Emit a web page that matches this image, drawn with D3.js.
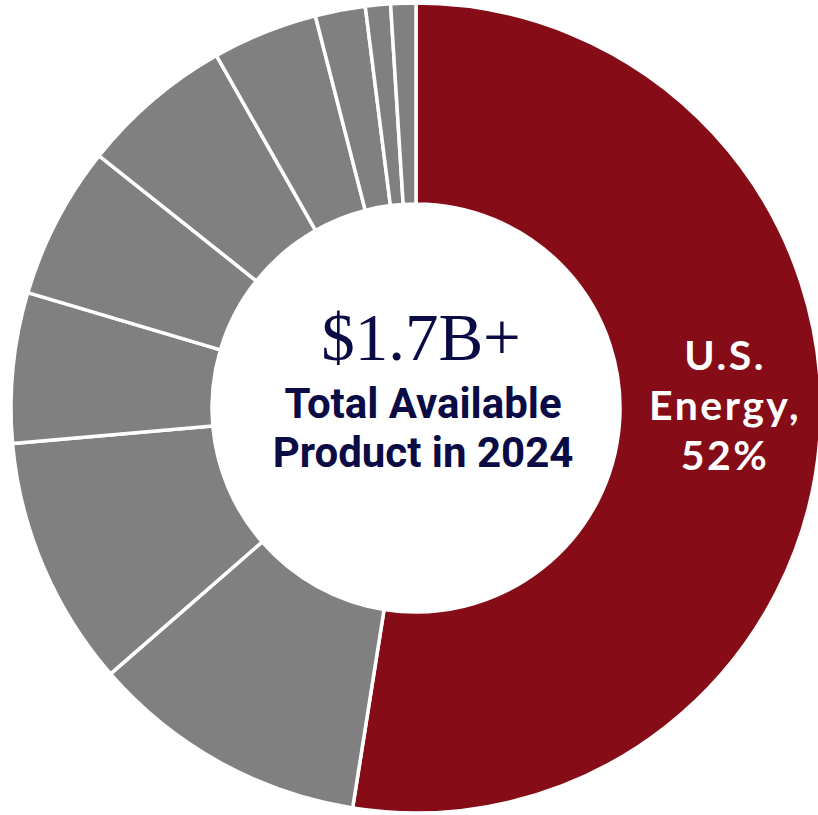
<!DOCTYPE html>
<html>
<head>
<meta charset="utf-8">
<script src="https://cdn.jsdelivr.net/npm/d3@7"></script>
<style>
  html, body { margin: 0; padding: 0; background: #fff; }
</style>
</head>
<body>
<div id="chart-area"></div>
<script>
// slice values, clockwise from 12 o'clock
var categories = ["U.S. Energy", "Segment 2", "Segment 3", "Segment 4", "Segment 5",
                  "Segment 6", "Segment 7", "Segment 8", "Segment 9", "Segment 10"];
var shares = [52.5, 11.1, 10.0, 6.0, 6.1, 6.1, 4.2, 2.0, 1.0, 1.0];
var labelLines = ["U.S.", "Energy,", "52%"];
var centerTitle = "$1.7B+";
var centerLines = ["Total Available", "Product in 2024"];

var width = 818, height = 815;
var cx = 416, cy = 408;
var outerR = 405, innerR = 204;

var svg = d3.select("#chart-area").append("svg")
    .attr("width", width)
    .attr("height", height);

var g = svg.append("g")
    .attr("transform", "translate(" + cx + "," + cy + ")");

var pie = d3.pie().sort(null).value(function(d) { return d; });
var arcs = pie(shares);

var arc = d3.arc()
    .innerRadius(innerR)
    .outerRadius(outerR);

g.selectAll("path.slice")
    .data(arcs)
    .enter().append("path")
    .attr("class", "slice")
    .attr("d", arc)
    .attr("fill", function(d, i) { return i === 0 ? "#860d17" : "#808080"; })
    .attr("stroke", "#fff")
    .attr("stroke-width", 3.5)
    .attr("stroke-linejoin", "miter");

// label on the big slice, one text per line
var labelArc = d3.arc().innerRadius(305).outerRadius(305);
var c = labelArc.centroid(arcs[0]);
g.selectAll("text.lbl")
    .data(labelLines)
    .enter().append("text")
    .attr("class", "lbl")
    .attr("x", c[0] + 5)
    .attr("y", function(d, i) { return c[1] - 62 + i * 50; })
    .attr("text-anchor", "middle")
    .attr("fill", "#fff")
    .attr("font-family", "Lato, sans-serif")
    .attr("font-weight", 700)
    .attr("font-size", 41)
    .attr("letter-spacing", 2.5)
    .text(function(d) { return d; });

// centre text
g.append("text")
    .attr("x", 5)
    .attr("y", -48)
    .attr("text-anchor", "middle")
    .attr("fill", "#0b0b45")
    .attr("font-family", "'Liberation Serif', 'Times New Roman', serif")
    .attr("font-size", 67)
    .text(centerTitle);

g.selectAll("text.sub")
    .data(centerLines)
    .enter().append("text")
    .attr("class", "sub")
    .attr("x", 7)
    .attr("y", function(d, i) { return 10 + i * 49; })
    .attr("text-anchor", "middle")
    .attr("fill", "#0b0b45")
    .attr("font-family", "Roboto, sans-serif")
    .attr("font-weight", 700)
    .attr("font-size", 42)
    .text(function(d) { return d; });
</script>
</body>
</html>
